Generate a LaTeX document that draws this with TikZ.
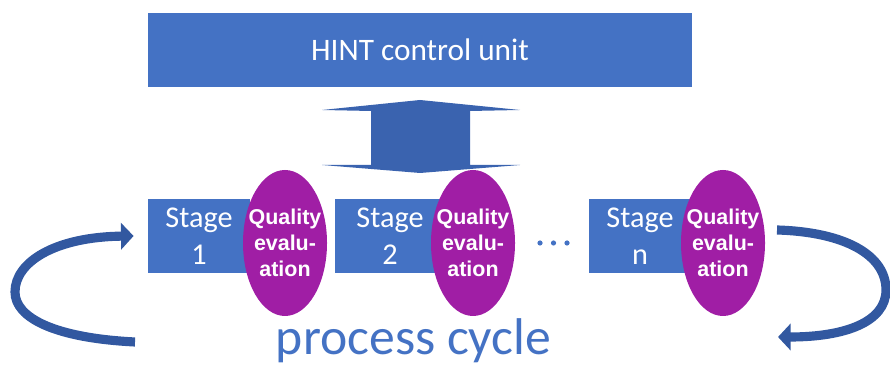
\documentclass[tikz,border=0pt]{standalone}
\usepackage{fontspec}
\setmainfont{Carlito}
\newfontfamily\qualfont{Liberation Sans}
\usetikzlibrary{arrows.meta, shapes.geometric}

\definecolor{hintblue}{RGB}{68,114,196}
\definecolor{arrowblue}{RGB}{58,99,175}
\definecolor{cycleblue}{RGB}{50,88,160}
\definecolor{qualpurple}{RGB}{160,30,165}

\begin{document}
\begin{tikzpicture}[>=Triangle, thick,
    unit/.style={rectangle, fill=hintblue, text=white, inner sep=0pt,
      minimum width=5.44cm, minimum height=0.74cm, font=\fontsize{8.9}{10}\selectfont},
    stagebox/.style={rectangle, fill=hintblue, text=white, inner sep=0pt, align=center,
      minimum height=0.74cm, font=\fontsize{8.6}{10.5}\selectfont},
    quality/.style={ellipse, fill=qualpurple, text=white, inner xsep=-0.08cm, inner ysep=0pt, align=center,
      minimum width=0.84cm, minimum height=1.46cm, font=\qualfont\bfseries\fontsize{6.1}{7.4}\selectfont},
    cycle arrow/.style={draw=cycleblue, line width=2.6pt, -{Triangle[length=3.6pt, width=7.5pt]}}]
    \useasboundingbox (0,0) rectangle (8.90,-3.65);

    % Control unit
    \node[unit] (hint) at (4.20, -0.50) {HINT control unit};

    % Two-way arrow between control unit and stages
    \fill[arrowblue] (4.20,-1.00) -- (5.20,-1.10) -- (4.70,-1.11) -- (4.70,-1.65)
      -- (5.20,-1.65) -- (4.20,-1.73) -- (3.22,-1.65) -- (3.71,-1.65)
      -- (3.71,-1.11) -- (3.22,-1.10) -- cycle;

    % Stages
    \node[stagebox, minimum width=1.02cm] (s1) at (1.99, -2.36) {Stage\\1};
    \node[stagebox, minimum width=1.10cm] (s2) at (3.90, -2.36) {Stage\\2};
    \node[stagebox, minimum width=1.02cm] (sn) at (6.40, -2.36) {Stage\\n};

    % Quality evaluation after each stage
    \node[quality] (q1) at (2.85, -2.43) {Quality\\evalu-\\ation};
    \node[quality] (q2) at (4.73, -2.43) {Quality\\evalu-\\ation};
    \node[quality] (qn) at (7.23, -2.43) {Quality\\evalu-\\ation};

    % Dots
    \foreach \x in {5.40, 5.535, 5.67}
      \fill[hintblue] (\x, -2.43) circle (0.026);

    \node[anchor=base, text=hintblue, font=\fontsize{14.7}{16}\selectfont] (cycle) at (4.135, -3.55) {process cycle};

    % Cycle arrows
    \coordinate (loopL) at (1.35, -3.42);
    \coordinate (loopR) at (7.77, -2.30);
    \coordinate (loopRend) at (7.78, -3.37);
    \draw[cycle arrow] (loopL) .. controls (0.55,-3.38) and (0.15,-3.18) .. (0.15,-2.92)
      .. controls (0.15,-2.62) and (0.55,-2.37) .. ([xshift=-0.13cm]s1.west);
    \draw[cycle arrow] (loopR) .. controls (8.45,-2.32) and (8.86,-2.55) .. (8.86,-2.90)
      .. controls (8.86,-3.22) and (8.45,-3.37) .. (loopRend);
\end{tikzpicture}
\end{document}
